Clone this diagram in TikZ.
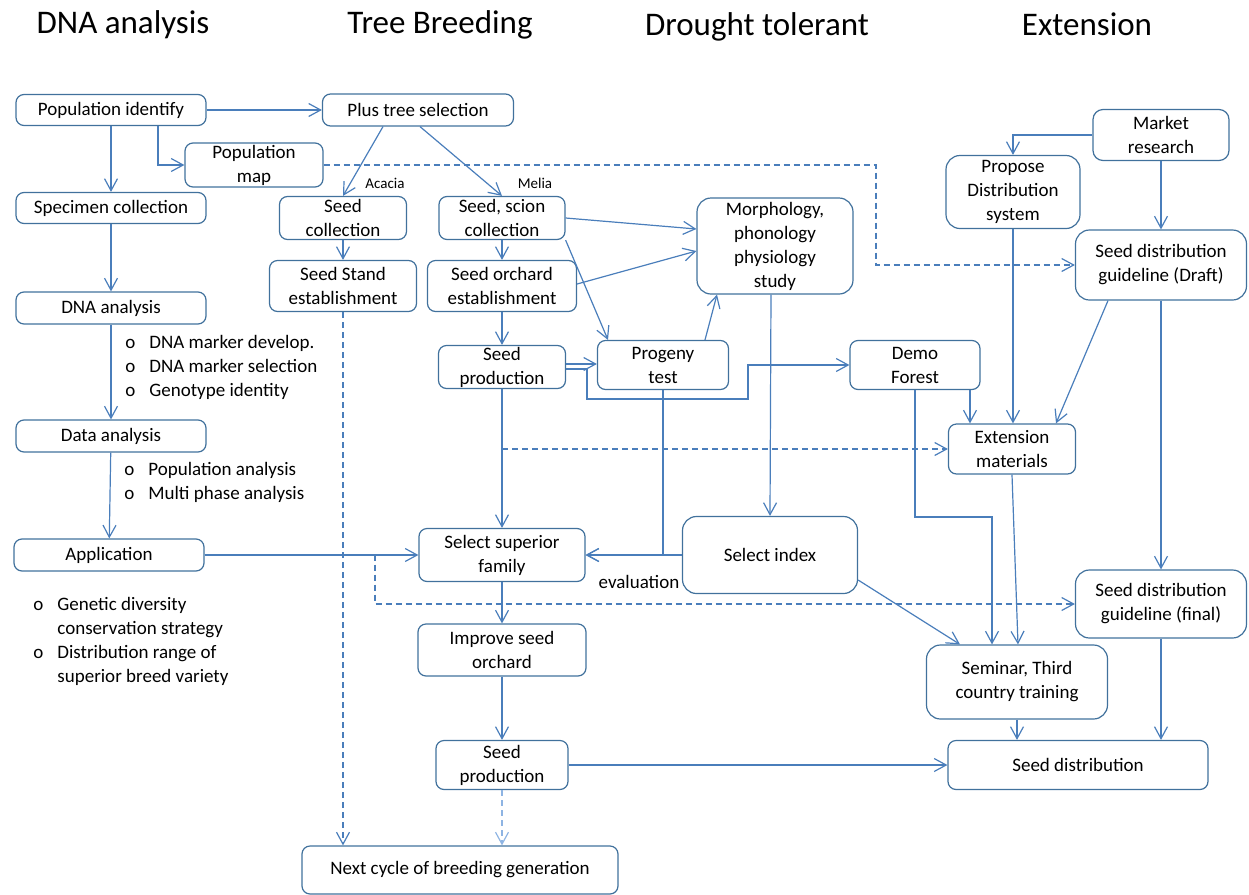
\documentclass[tikz,border=0pt]{standalone}
\usepackage{fontspec}
\setmainfont{Carlito}
\usetikzlibrary{arrows.meta}
\definecolor{boxline}{HTML}{41719C}
\definecolor{linkblue}{HTML}{4A7EBB}
\definecolor{paleblue}{HTML}{8EB4E3}
\newcommand{\boxfont}{\fontsize{9.5}{12}\selectfont}
\newcommand{\headfont}{\fontsize{16.5}{20}\selectfont}
\newcommand{\tagfont}{\fontsize{7.5}{9}\selectfont}

\begin{document}
\begin{tikzpicture}[x=0.5pt, y=-0.5pt,
    box/.style={draw=boxline, line width=0.6pt, rounded corners=4pt, align=center, inner sep=0pt, font=\boxfont},
    roundbox/.style={box, rounded corners=7pt},
    link/.style={draw=linkblue, line width=0.6pt, -{Straight Barb[length=6pt,width=6.5pt]}},
    dlink/.style={link, dash pattern=on 3pt off 2pt},
    note/.style={anchor=west, align=left, inner sep=0pt, font=\boxfont},
    tag/.style={inner sep=0pt, font=\tagfont},
    head/.style={anchor=base, inner sep=0pt, font=\headfont}]
            \useasboundingbox (0,0) rectangle (1249,895);
            \node (hdna) at (123,33) [head] {DNA analysis};
            \node (hbreed) at (440,33) [head] {Tree Breeding};
            \node (hdrought) at (757,35) [head] {Drought tolerant};
            \node (hext) at (1087,35) [head] {Extension};

            \node (popid) at (111,110) [box, minimum width=95pt, minimum height=15.5pt] {Population identify};
            \node (plustree) at (418,110) [box, minimum width=95.5pt, minimum height=16pt] {Plus tree selection};
            \node (popmap) at (254,165) [box, minimum width=69pt, minimum height=22pt] {Population\\map};
            \node (specimen) at (111,208) [box, minimum width=95pt, minimum height=15.5pt] {Specimen collection};
            \node (dna) at (111,308) [box, minimum width=95pt, minimum height=16pt] {DNA analysis};
            \node (data) at (111,436) [box, minimum width=95pt, minimum height=16pt] {Data analysis};
            \node (app) at (109,555) [box, minimum width=95pt, minimum height=16pt] {Application};
            \node (seedcol) at (343,218) [box, minimum width=63.5pt, minimum height=21.5pt] {Seed\\collection};
            \node (seedstand) at (343,286) [box, minimum width=73.5pt, minimum height=25.5pt] {Seed Stand\\establishment};
            \node (scion) at (502,218) [box, minimum width=63pt, minimum height=21.5pt] {Seed, scion\\collection};
            \node (orchard) at (502,286) [box, minimum width=74.5pt, minimum height=25.5pt] {Seed orchard\\establishment};
            \node (seedprod) at (502,367) [box, minimum width=63.5pt, minimum height=21.5pt] {Seed\\production};
            \node (progeny) at (663,365) [box, minimum width=65.5pt, minimum height=24.5pt] {Progeny\\test};
            \node (morph) at (775,246) [roundbox, minimum width=78pt, minimum height=48pt] {Morphology,\\phonology\\physiology\\study};
            \node (demo) at (915,365) [box, minimum width=65pt, minimum height=24.5pt] {Demo\\Forest};
            \node (market) at (1161,135) [box, rounded corners=5pt, minimum width=68pt, minimum height=25.5pt] {Market\\research};
            \node (propose) at (1013,192) [roundbox, minimum width=67pt, minimum height=36.5pt] {Propose\\Distribution\\system};
            \node (guidedraft) at (1161,265) [roundbox, minimum width=85.5pt, minimum height=35pt] {Seed distribution\\guideline (Draft)};
            \node (extension) at (1012,449) [box, minimum width=63.5pt, minimum height=25pt] {Extension\\materials};
            \node (superior) at (502,555) [box, minimum width=83pt, minimum height=26.5pt] {Select superior\\family};
            \node (index) at (770,555) [roundbox, minimum width=87.5pt, minimum height=38.5pt] {Select index};
            \node (guidefinal) at (1161,604) [roundbox, minimum width=85.5pt, minimum height=34pt] {Seed distribution\\guideline (final)};
            \node (improve) at (502,650) [box, minimum width=84pt, minimum height=26pt] {Improve seed\\orchard};
            \node (seminar) at (1017,682) [roundbox, minimum width=90.5pt, minimum height=37pt] {Seminar, Third\\country training};
            \node (seedprodb) at (502,765) [box, minimum width=66pt, minimum height=24.5pt] {Seed\\production};
            \node (seeddist) at (1078,765) [box, minimum width=130pt, minimum height=24.5pt] {Seed distribution};
            \node (nextcycle) at (460,870) [box, minimum width=158pt, minimum height=24pt] {Next cycle of breeding generation};

            \node (dnanotes) at (125,368) [note] {\begin{tabular}{@{}l@{\hspace{7pt}}l@{}}o & DNA marker develop.\\ o & DNA marker selection\\ o & Genotype identity\end{tabular}};
            \node (datanotes) at (124,483) [note] {\begin{tabular}{@{}l@{\hspace{7pt}}l@{}}o & Population analysis\\ o & Multi phase analysis\end{tabular}};
            \node (appnotes) at (33,642) [note] {\begin{tabular}{@{}l@{\hspace{7pt}}l@{}}o & Genetic diversity\\ & conservation strategy\\ o & Distribution range of\\ & superior breed variety\end{tabular}};
            \node (acacia) at (385,183) [tag] {Acacia};
            \node (melia) at (535,183) [tag] {Melia};
            \node (evaluation) at (639,582) [tag, font=\boxfont] {evaluation};

            \coordinate (mapturn) at (876,165);
            \coordinate (appturn) at (375,555);
            \coordinate (dropa) at (587,399);
            \coordinate (risea) at (748,399);
            \coordinate (demoturn) at (992,517);
            \coordinate (demofoot) at ([xshift=27.5pt]demo.south);

            \draw [link] (popid) edge (plustree);
            \draw [link] (popid) edge (specimen);
            \draw [link] ([xshift=23.5pt]popid.south) |- (popmap.west);
            \draw [dlink] (popmap.east) -- (mapturn) |- (guidedraft.west);
            \draw [link] ([xshift=-17.5pt]plustree.south) -- (seedcol.north);
            \draw [link] ([xshift=1pt]plustree.south) -- (scion.north);
            \draw [link] (specimen) edge (dna);
            \draw [link] (dna) edge (data);
            \draw [link] (data) edge (app);
            \draw [link] (app) edge (superior);
            \draw [dlink] (app.east) -- (appturn) |- (guidefinal.west);
            \draw [link] (seedcol) edge (seedstand);
            \draw [dlink] (seedstand.south) -- (seedstand.south |- nextcycle.north);
            \draw [link] (scion) edge (orchard);
            \draw [link] (scion.east) -- ([yshift=8.5pt]morph.west);
            \draw [link] (scion.south east) -- ([xshift=-27.5pt]progeny.north);
            \draw [link] ([yshift=1pt]orchard.east) -- ([yshift=-2.5pt]morph.west);
            \draw [link] (orchard) edge (seedprod);
            \draw [link] ([yshift=1.5pt]seedprod.east) -- ([yshift=0.5pt]progeny.west);
            \draw [link] ([yshift=-1pt]seedprod.east) -| (dropa) -- (risea) |- (demo.west);
            \draw [link] ([xshift=21pt]progeny.north) -- ([xshift=-29pt]morph.south);
            \draw [link] (progeny.south) |- (superior.east);
            \draw [link] (index) edge (superior);
            \draw [link] ([xshift=-2pt]morph.south) -- (index.north);
            \draw [link] (seedprod) edge (superior);
            \draw [dlink] (seedprod.south |- extension.west) -- (extension.west);
            \draw [link] (demofoot) -- (demofoot |- extension.north);
            \draw [link] (demo.south) |- (demoturn) -- (demoturn |- seminar.north);
            \draw [link] (propose.south) -- (propose.south |- extension.north);
            \draw [link] (market.west) -| (propose.north);
            \draw [link] (market) edge (guidedraft);
            \draw [link] ([xshift=-26.5pt]guidedraft.south) -- ([xshift=22pt]extension.north);
            \draw [link] (guidedraft) edge (guidefinal);
            \draw [link] ([yshift=-12.5pt]index.east) -- ([xshift=-28.5pt]seminar.north);
            \draw [link] (extension.south) -- ([xshift=0.5pt]seminar.north);
            \draw [link] (guidefinal.south) -- (guidefinal.south |- seeddist.north);
            \draw [link] (seminar.south) -- (seminar.south |- seeddist.north);
            \draw [link] (seedprodb) edge (seeddist);
            \draw [link] (superior) edge (improve);
            \draw [link] (improve) edge (seedprodb);
            \draw [dlink, draw=paleblue] (seedprodb.south) -- (seedprodb.south |- nextcycle.north);
        \end{tikzpicture}
\end{document}
